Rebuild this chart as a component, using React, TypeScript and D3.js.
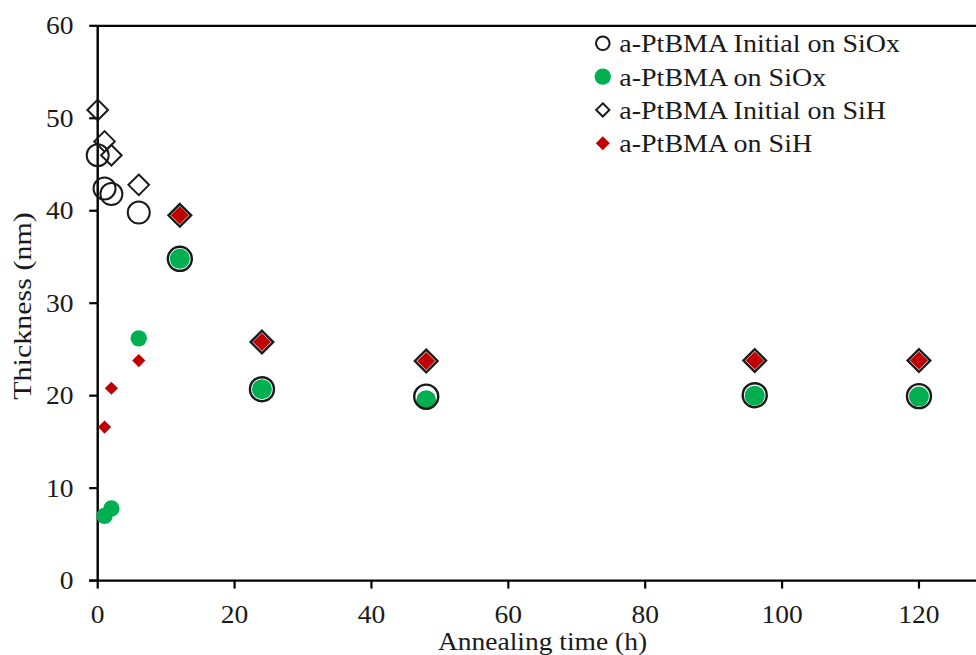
import React from "react";
import * as d3 from "d3";

const timesInitSiOx = [0, 1, 2, 6, 12, 24, 48, 96, 120];
const initSiOx = [46.0, 42.4, 41.8, 39.8, 34.8, 20.7, 19.9, 20.05, 19.95];
const timesSiOx = [1, 2, 6, 12, 24, 48, 96, 120];
const siOx = [7.0, 7.8, 26.2, 34.8, 20.7, 19.5, 20.0, 19.9];
const timesInitSiH = [0, 1, 2, 6, 12, 24, 48, 96, 120];
const initSiH = [50.9, 47.5, 46.0, 42.8, 39.5, 25.8, 23.75, 23.8, 23.8];
const timesSiH = [1, 2, 6, 12, 24, 48, 96, 120];
const siH = [16.6, 20.8, 23.8, 39.5, 25.8, 23.75, 23.8, 23.8];

const xTicks = [0, 20, 40, 60, 80, 100, 120];
const yTicks = [0, 10, 20, 30, 40, 50, 60];
const legendLabels = [
  "a-PtBMA Initial on SiOx",
  "a-PtBMA on SiOx",
  "a-PtBMA Initial on SiH",
  "a-PtBMA on SiH",
];

const GREEN = "#00B050";
const RED = "#C00000";
const INK = "#1a1a1a";
const FONT = "Liberation Serif";
const SX = 1.1;

const x = d3.scaleLinear().domain([0, 140]).range([97.7, 97.7 + 140 * 6.844]);
const y = d3.scaleLinear().domain([0, 60]).range([580.6, 25.8]);

const diamond = (cx: number, cy: number, h: number) =>
  `M${cx},${cy - h}L${cx + h},${cy}L${cx},${cy + h}L${cx - h},${cy}Z`;

const txtStyle = { fontFamily: FONT } as React.CSSProperties;

export default function App() {
  const matchedSiOx = (t: number) => timesSiOx.includes(t) && timesInitSiOx.includes(t);
  const matchedSiH = (t: number) => timesSiH.includes(t) && timesInitSiH.includes(t);
  const x0 = x(0);
  const yTop = y(60);
  const yBot = y(0);
  return (
    <svg
      width={976}
      height={655}
      style={{ position: "absolute", left: 0, top: 0, background: "#fff", fontFamily: FONT }}
    >
      <rect x={0} y={0} width={976} height={655} fill="#fff" />
      {/* frame */}
      <line x1={x0} x2={1100} y1={yTop} y2={yTop} stroke="#000" strokeWidth={2.2} />
      <line x1={x0} x2={x0} y1={yTop} y2={yBot} stroke="#000" strokeWidth={2.4} />
      <line x1={x0 - 8.5} x2={1100} y1={yBot} y2={yBot} stroke="#000" strokeWidth={2.4} />
      {yTicks.map((t) => (
        <g key={"yt" + t}>
          <line x1={x0 - 8.5} x2={x0} y1={y(t)} y2={y(t)} stroke="#000" strokeWidth={2.2} />
          <text
            transform={`translate(73.5,${y(t) + 8.6}) scale(${SX},1)`}
            textAnchor="end"
            fontSize={25}
            fill={INK}
            style={txtStyle}
          >
            {t}
          </text>
        </g>
      ))}
      {xTicks.map((t) => (
        <g key={"xt" + t}>
          <line x1={x(t)} x2={x(t)} y1={yBot} y2={yBot + 8} stroke="#000" strokeWidth={2.2} />
          <text
            transform={`translate(${x(t)},622.6) scale(${SX},1)`}
            textAnchor="middle"
            fontSize={25}
            fill={INK}
            style={txtStyle}
          >
            {t}
          </text>
        </g>
      ))}
      <text
        transform={`translate(542.5,650) scale(${SX},1)`}
        textAnchor="middle"
        fontSize={25}
        fill={INK}
        style={txtStyle}
      >
        Annealing time (h)
      </text>
      <text
        transform={`translate(31,306) rotate(-90) scale(1.2,1)`}
        textAnchor="middle"
        fontSize={25}
        fill={INK}
        style={txtStyle}
      >
        Thickness (nm)
      </text>

      {/* filled series */}
      {timesSiOx.map((t, i) => (
        <circle key={"g" + i} cx={x(t)} cy={y(siOx[i])} r={matchedSiOx(t) && t >= 12 ? 10 : 8.2} fill={GREEN} />
      ))}
      {timesSiH.map((t, i) => (
        <path
          key={"r" + i}
          d={diamond(x(t), y(siH[i]), matchedSiH(t) && t >= 12 ? 9 : 6.6)}
          fill={RED}
        />
      ))}
      {/* open series */}
      {timesInitSiOx.map((t, i) => {
        const big = t >= 12 && matchedSiOx(t);
        return (
          <circle
            key={"oc" + i}
            cx={x(t)}
            cy={y(initSiOx[i])}
            r={big ? 12 : 11}
            fill="none"
            stroke={INK}
            strokeWidth={big ? 2.4 : 2}
          />
        );
      })}
      {timesInitSiH.map((t, i) => {
        const big = t >= 12 && matchedSiH(t);
        return (
          <path
            key={"od" + i}
            d={diamond(x(t), y(initSiH[i]), big ? 11.3 : 10.3)}
            fill="none"
            stroke={INK}
            strokeWidth={big ? 2.4 : 2}
            strokeLinejoin="miter"
          />
        );
      })}

      {/* legend */}
      {legendLabels.map((lab, i) => {
        const cy = 43.3 + i * 33.3;
        const cx = 602.8;
        let marker;
        if (i === 0) marker = <circle cx={cx} cy={cy} r={6.8} fill="none" stroke={INK} strokeWidth={2} />;
        else if (i === 1) marker = <circle cx={cx} cy={cy} r={8.2} fill={GREEN} />;
        else if (i === 2) marker = <path d={diamond(cx, cy, 6.6)} fill="none" stroke={INK} strokeWidth={2} />;
        else marker = <path d={diamond(cx, cy, 7)} fill={RED} />;
        return (
          <g key={"lg" + i}>
            {marker}
            <text
              transform={`translate(619.3,${cy + 9}) scale(1.12,1)`}
              fontSize={25}
              fill={INK}
              style={txtStyle}
            >
              {lab}
            </text>
          </g>
        );
      })}
    </svg>
  );
}
